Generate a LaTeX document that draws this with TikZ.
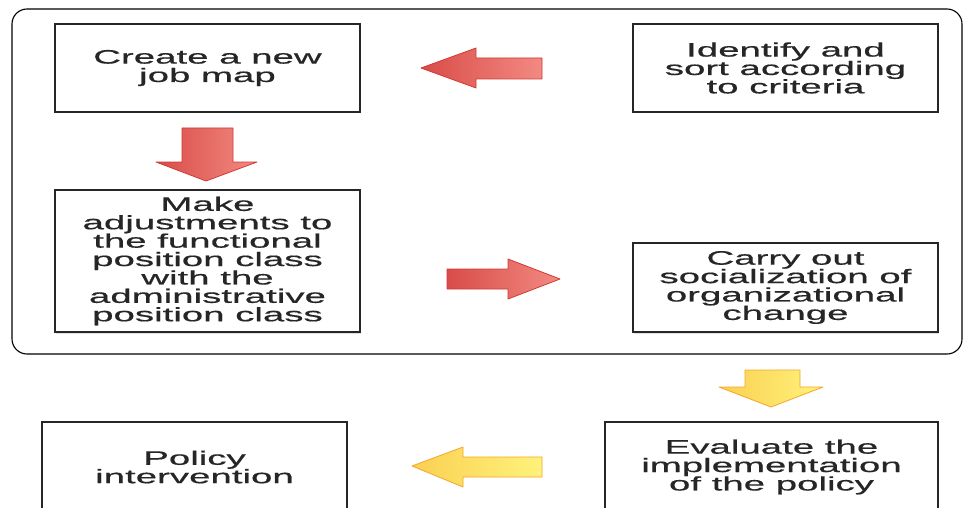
\documentclass[tikz,border=0pt]{standalone}
\usepackage{fontspec}
\setmainfont{Liberation Sans}[FakeStretch=1.97, FakeBold=0.6]
\usetikzlibrary{shadows}
\definecolor{redlo}{HTML}{D94C48}
\definecolor{redhi}{HTML}{F28A82}
\definecolor{redline}{HTML}{D03A36}
\definecolor{yello}{HTML}{FAD052}
\definecolor{yelhi}{HTML}{FFF27C}
\definecolor{yelline}{HTML}{F5A52A}
\tikzset{
  stepbox/.style={draw=black!85, line width=1.4pt, fill=white, align=center,
    inner sep=0pt, text=black!85, font=\fontsize{19.5}{18.4}\selectfont,
    drop shadow={shadow xshift=1pt, shadow yshift=-1.5pt, opacity=0.25}},
  frame/.style={draw=black, line width=1.1pt, rounded corners=15pt},
  redarrow/.style={left color=redlo, right color=redhi, draw=redline, line width=0.8pt, line join=round},
  yelarrow/.style={left color=yello, right color=yelhi, draw=yelline, line width=0.8pt, line join=round}
}
\begin{document}
\begin{tikzpicture}[x=1pt, y=-1pt]
  \useasboundingbox (0,0) rectangle (963,508);
  \clip (0,0) rectangle (963,508);
  \fill[white] (0,0) rectangle (963,508);

  % enclosing frame of the first phase
  \draw[frame] (12,9) rectangle (962,354);

  % process steps
  \node[stepbox, minimum width=305pt, minimum height=88pt] (create) at (207.5,68)
    {Create a new\\job map};
  \node[stepbox, minimum width=305pt, minimum height=88pt] (identify) at (785.5,68)
    {Identify and\\sort according\\to criteria};
  \node[stepbox, minimum width=305pt, minimum height=142pt] (adjust) at (207.5,261)
    {Make\\adjustments to\\the functional\\position class\\with the\\administrative\\position class};
  \node[stepbox, minimum width=305pt, minimum height=89pt] (social) at (785.5,287.5)
    {Carry out\\socialization of\\organizational\\change};
  \node[stepbox, minimum width=305pt, minimum height=90pt] (policy) at (194.5,467)
    {Policy\\intervention};
  \node[stepbox, minimum width=333pt, minimum height=90pt] (evaluate) at (771.5,467)
    {Evaluate the\\implementation\\of the policy};

  % block arrows between the steps
  \path[redarrow] (421,68) -- (476,48) -- (476,58) -- (542,58) -- (542,79)
    -- (476,79) -- (476,88) -- cycle;
  \path[redarrow] (182,128) -- (233,128) -- (233,162) -- (257,162) -- (206,181)
    -- (156,162) -- (182,162) -- cycle;
  \path[redarrow] (447,269) -- (508,269) -- (508,259) -- (560,279) -- (508,299)
    -- (508,289) -- (447,289) -- cycle;
  \path[yelarrow] (745,370) -- (800,370) -- (800,387) -- (823,387) -- (771,407)
    -- (719,387) -- (745,387) -- cycle;
  \path[yelarrow] (412,466) -- (463,447) -- (463,457) -- (542,457) -- (542,477)
    -- (463,477) -- (463,487) -- cycle;
\end{tikzpicture}
\end{document}
